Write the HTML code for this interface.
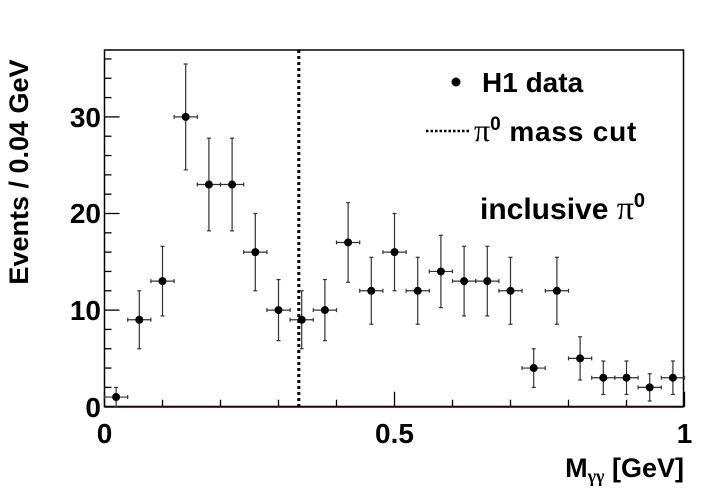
<!DOCTYPE html>
<html><head><meta charset="utf-8"><style>
html,body{margin:0;padding:0;background:#fff;}
svg{display:block;font-family:"Liberation Sans",sans-serif;font-weight:bold;}
</style></head><body>
<svg id="s" width="701" height="503" viewBox="0 0 701 503" xmlns="http://www.w3.org/2000/svg">
<rect x="104.5" y="50" width="579" height="356.7" fill="none" stroke="#000" stroke-width="1.5"/>
<line x1="104.5" y1="406.7" x2="683.5" y2="406.7" stroke="#200" stroke-width="2"/>
<g id="ticks" stroke="#000" stroke-width="1.3"></g>
<line x1="298.8" y1="50" x2="298.8" y2="406.7" stroke="#000" stroke-width="3" stroke-dasharray="3,3"/>
<g id="pts"></g>
<g font-size="28" text-anchor="end">
<text x="101" y="417">0</text>
<text x="101" y="320">10</text>
<text x="101" y="223">20</text>
<text x="101" y="127">30</text>
</g>
<g font-size="28" text-anchor="middle">
<text x="104.5" y="443">0</text>
<text x="394.5" y="443">0.5</text>
<text x="684.5" y="443">1</text>
</g>
<text x="684" y="477" font-size="27" text-anchor="end">M<tspan font-size="18" dy="5" font-family="'Liberation Serif',serif">γγ</tspan><tspan dy="-5"> [GeV]</tspan></text>
<text transform="translate(28,172) rotate(-90)" font-size="27" text-anchor="middle">Events / 0.04 GeV</text>
<circle cx="456" cy="82" r="4.5" fill="#000"/>
<text x="482" y="92" font-size="28">H1 data</text>
<line x1="426" y1="131" x2="470" y2="131" stroke="#000" stroke-width="2.5" stroke-dasharray="2.5,2"/>
<text x="474" y="141" font-size="28"><tspan font-family="'Liberation Serif',serif" font-weight="normal" font-size="32">π</tspan><tspan font-size="19" dy="-11">0</tspan><tspan dy="11" letter-spacing="0.8"> mass cut</tspan></text>
<text x="480" y="219" font-size="30">inclusive <tspan font-family="'Liberation Serif',serif" font-weight="normal" font-size="34">π</tspan><tspan font-size="20" dy="-12">0</tspan></text>
</svg>
<script>
var X=function(v){return 104.5+580*v},Y=function(n){return 406.7-9.66*n};
var ns="http://www.w3.org/2000/svg",t=document.getElementById("ticks"),p=document.getElementById("pts");
function L(g,a,b,c,d,w,col){var l=document.createElementNS(ns,"line");l.setAttribute("x1",a);l.setAttribute("y1",b);l.setAttribute("x2",c);l.setAttribute("y2",d);l.setAttribute("stroke",col||"#000");l.setAttribute("stroke-width",w||1.3);g.appendChild(l);}
for(var n=0;n<=36;n+=2){var y=Y(n);L(t,104.5,y,104.5+(n%10==0?15:7),y);}
for(var i=0;i<=10;i++){var x=X(i/10);L(t,x,406.7,x,406.7-(i%5==0?15:7));}
var d=[1,9,13,30,23,23,16,10,9,10,17,12,16,12,14,13,13,12,4,12,5,3,3,2,3];
d.forEach(function(n,i){var x=X(0.02+0.04*i),y=Y(n),e=Math.sqrt(n)*9.66;var y2=Math.min(406.7,y+e);
L(p,x,y-e,x,y2,1.2,"#333");L(p,x-2,y-e,x+2,y-e,1.2,"#333");L(p,x-2,y2,x+2,y2,1.2,"#333");
L(p,x-11.6,y,x+11.6,y,1.2,"#333");L(p,x-11.6,y-2,x-11.6,y+2,1.2,"#333");L(p,x+11.6,y-2,x+11.6,y+2,1.2,"#333");
var c=document.createElementNS(ns,"circle");c.setAttribute("cx",x);c.setAttribute("cy",y);c.setAttribute("r",4);p.appendChild(c);});
</script>
</body></html>
